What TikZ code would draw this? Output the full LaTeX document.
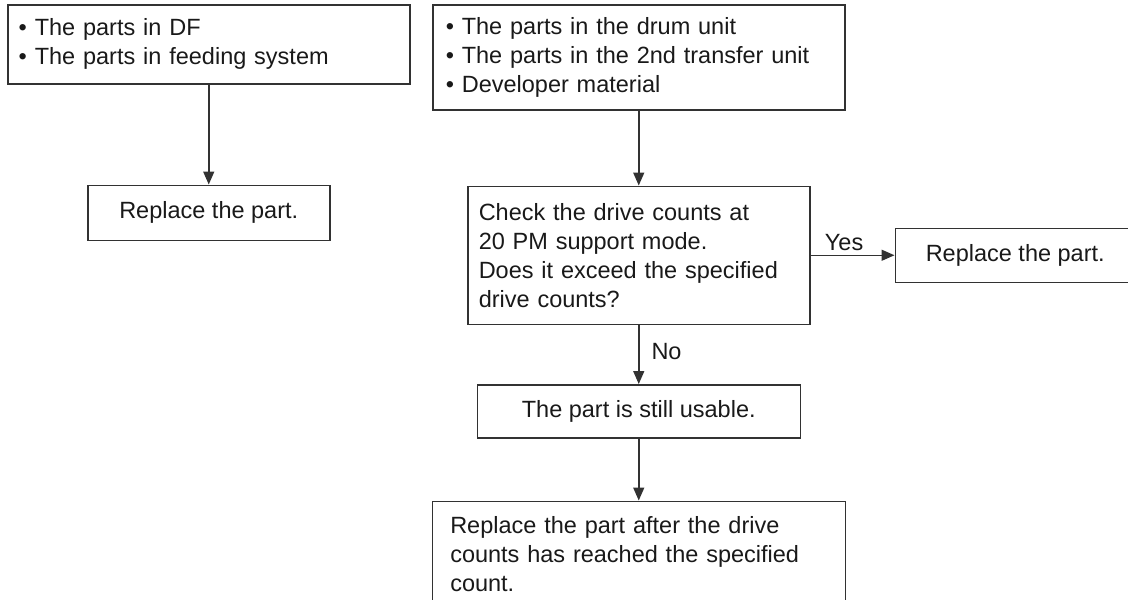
\documentclass[tikz,border=0pt]{standalone}
\usepackage{fontspec}
\setmainfont{Liberation Sans}
\usetikzlibrary{positioning,arrows.meta}
\definecolor{linegray}{RGB}{50,50,50}
\definecolor{textgray}{RGB}{25,25,25}

\begin{document}
\begin{tikzpicture}[x=1pt,y=1pt,node distance=60pt,
  font=\fontsize{23.5}{29}\selectfont,text=textgray,
  box/.style={draw=linegray,line width=1.5pt,rectangle,inner ysep=0pt,align=center},
  listbox/.style={box,align=left,inner xsep=11pt},
  arr/.style={-{Triangle[length=13pt,width=11pt]},draw=linegray,line width=1.5pt}]
\useasboundingbox (0,0) rectangle (1128,-600);
\node[listbox,anchor=north west,text width=380pt,minimum height=79pt] (parts) at (7,-4) {• The parts in DF\\• The parts in feeding system};
\node[box,below=100pt of parts,minimum width=242pt,minimum height=55pt] (replA) {Replace the part.};
\node[listbox,anchor=north west,text width=386pt,inner xsep=13pt,minimum height=105pt] (drum) at (432,-4) {• The parts in the drum unit\\• The parts in the 2nd transfer unit\\• Developer material};
\node[listbox,below=75pt of drum,text width=320pt,minimum height=138pt] (check) {Check the drive counts at\\20 PM support mode.\\Does it exceed the specified\\drive counts?};
\node[box,right=84pt of check,minimum width=240pt,minimum height=54pt] (replB) {Replace the part.};
\node[box,below=59pt of check,minimum width=323pt,minimum height=53pt] (usable) {The part is still usable.};
\node[listbox,below=62pt of usable,text width=377pt,inner xsep=18pt,minimum height=106pt] (later) {Replace the part after the drive\\counts has reached the specified\\count.};
\draw[arr] (parts) -- (replA);
\draw[arr] (drum) -- (check);
\draw[arr] (check) -- node[above,pos=0.4]{Yes} (replB);
\draw[arr] (check) -- node[right,pos=0.45,inner xsep=12pt]{No} (usable);
\draw[arr] (usable) -- (later);
\end{tikzpicture}
\end{document}
